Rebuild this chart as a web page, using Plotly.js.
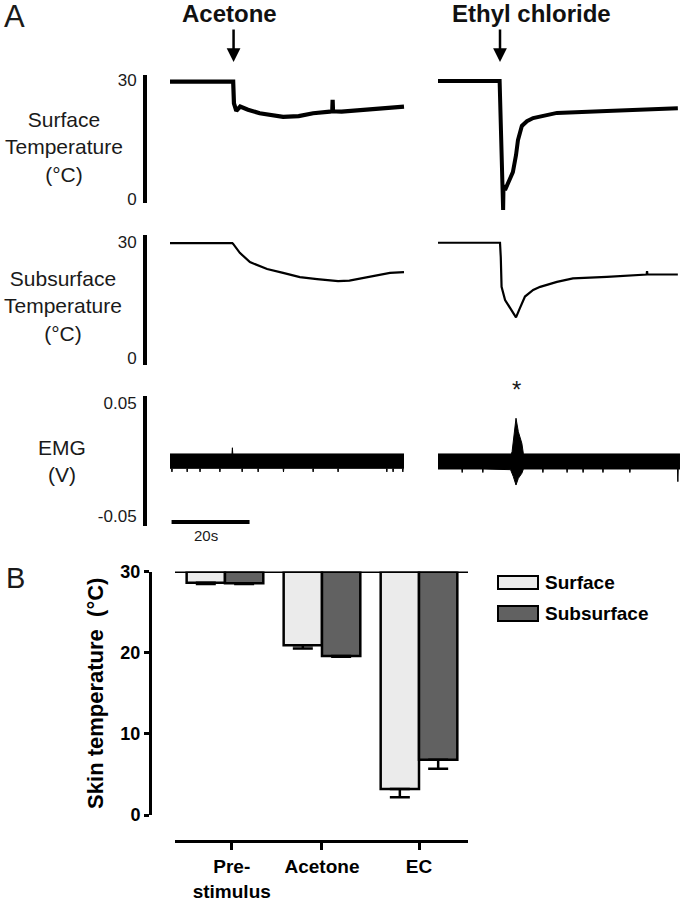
<!DOCTYPE html>
<html><head><meta charset="utf-8">
<script src="https://cdn.plot.ly/plotly-3.0.1.min.js"></script>
<style>html,body{margin:0;padding:0;background:#fff}#chart{width:680px;height:900px}</style>
</head><body><div id="chart"></div>
<script>
// ---------- Panel A data (time in s from start of each recording) ----------
const stimulusNames = ['Acetone', 'Ethyl chloride'];
const stimulusTimes = [16.3, 15.9];

const surfAcetoneT = [0, 16.2, 16.4, 17.0, 18.0, 20.0, 23.0, 26.0, 29.0, 33.0, 36.7, 41.0, 41.6, 41.7, 41.8, 44.0, 50.0, 55.0, 60.0];
const surfAcetoneV = [29.7, 29.7, 24.2, 22.3, 23.4, 22.6, 21.7, 21.2, 20.8, 21.0, 21.7, 22.1, 22.2, 25.1, 22.2, 22.1, 22.6, 23.0, 23.4];

const surfEcT = [0, 15.8, 16.7, 16.8, 17.2, 17.9, 19.2, 20.0, 20.5, 21.5, 22.8, 24.4, 30.5, 43.3, 61.5];
const surfEcV = [29.9, 29.9, -2.8, 3.5, 2.3, 4.0, 6.8, 11.1, 14.9, 18.5, 19.7, 20.5, 21.8, 22.3, 23.0];

const subAcetoneT = [0, 16.0, 16.2, 17.9, 20.5, 24.9, 29.0, 33.3, 37.7, 43.1, 46.0, 52.1, 56.4, 60.0];
const subAcetoneV = [29.7, 29.7, 29.5, 27.2, 24.8, 23.0, 22.0, 20.9, 20.4, 19.9, 20.0, 21.2, 22.0, 22.2];

const subEcT = [0, 15.9, 16.1, 16.3, 17.2, 18.5, 20.0, 21.0, 22.3, 24.4, 26.2, 30.5, 34.6, 43.3, 51.8, 53.5, 53.6, 53.7, 61.5];
const subEcV = [29.8, 29.8, 26.0, 18.4, 15.0, 12.9, 10.5, 12.9, 15.9, 17.6, 18.4, 19.7, 20.6, 21.0, 21.6, 21.6, 22.5, 21.6, 21.6];

// EMG envelopes (V): upper and lower edge of the recorded band
const emgAcetoneHiT = [0, 15.9, 16.0, 16.1, 60];
const emgAcetoneHi  = [0.0049, 0.0049, 0.0104, 0.0049, 0.0049];
const emgAcetoneLoT = [0, 0.4, 0.5, 0.6, 4.3, 4.4, 4.5, 7.6, 7.7, 7.8, 12.7, 12.8, 12.9, 18.4, 18.5, 18.6, 22.5, 22.6, 22.7, 29.0, 29.1, 29.2, 36.6, 36.7, 36.8, 43.0, 43.1, 43.2, 55.5, 55.6, 55.7, 57.1, 57.2, 57.3, 59.6, 59.7, 59.8, 60];
const emgAcetoneLo  = [-0.0078, -0.0078, -0.011, -0.0078, -0.0078, -0.011, -0.0078, -0.0078, -0.011, -0.0078, -0.0078, -0.011, -0.0078, -0.0078, -0.011, -0.0078, -0.0078, -0.011, -0.0078, -0.0078, -0.011, -0.0078, -0.0078, -0.011, -0.0078, -0.0078, -0.011, -0.0078, -0.0078, -0.011, -0.0078, -0.0078, -0.011, -0.0078, -0.0078, -0.011, -0.0078, -0.0078];

const emgEcHiT = [0, 18.8, 19.0, 19.5, 20.0, 20.6, 21.5, 21.9, 62.05];
const emgEcHi  = [0.0049, 0.0049, 0.007, 0.023, 0.0365, 0.0246, 0.0143, 0.0049, 0.0049];
const emgEcLoT = [0, 6.1, 6.2, 6.3, 11.4, 11.5, 11.6, 18.3, 18.6, 19.3, 20.0, 20.6, 21.5, 21.9, 26.8, 26.9, 27.0, 33.0, 33.1, 33.2, 37.1, 37.2, 37.3, 42.2, 42.3, 42.4, 49.1, 49.2, 49.3, 61.4, 61.5, 61.6, 62.05];
const emgEcLo  = [-0.0084, -0.0084, -0.0115, -0.0084, -0.0084, -0.0115, -0.0084, -0.0084, -0.009, -0.015, -0.0226, -0.0167, -0.0122, -0.0084, -0.0084, -0.0115, -0.0084, -0.0084, -0.0115, -0.0084, -0.0084, -0.0115, -0.0084, -0.0084, -0.0115, -0.0084, -0.0084, -0.0115, -0.0084, -0.0084, -0.0196, -0.0084, -0.0084];

const rowLabels = ['Surface<br>Temperature<br>(°C)', 'Subsurface<br>Temperature<br>(°C)', 'EMG<br>(V)'];
const tempTicks = [0, 30];
const tempTickText = ['0', '30'];
const emgTicks = [-0.05, 0.05];
const emgTickText = ['-0.05', '0.05'];
const scaleBarSeconds = 20;
const scaleBarLabel = '20s';

// ---------- Panel B data ----------
const barCategories = ['Pre-<br>stimulus', 'Acetone', 'EC'];
const seriesNames = ['Surface', 'Subsurface'];
const surfaceMeans = [28.6, 20.9, 3.2];
const surfaceSem   = [0.15, 0.4, 1.0];
const subsurfaceMeans = [28.55, 19.6, 6.8];
const subsurfaceSem   = [0.1, 0.1, 1.1];
const barBaseline = 30;
const barTicks = [0, 10, 20, 30];
const barYTitle = 'Skin temperature  (°C)';

// ---------- geometry helpers ----------
const FONT = 'Liberation Sans, Arial, Helvetica, sans-serif';
const W = 680, H = 900, SEC_PX = 3.9;
const dx = (a, b) => [a / W, b / W];
const dy = (top, bottom) => [1 - bottom / H, 1 - top / H];
function rangeFrom(top, bottom, v1, p1, v2, p2) {
  const k = (v1 - v2) / (p2 - p1);
  const valAt = p => v2 + (p2 - p) * k;
  return [valAt(bottom), valAt(top)];
}
const timeRange = (a, b, origin) => [(a - origin) / SEC_PX, (b - origin) / SEC_PX];
const INK = '#000';
const SURF_COLOR = '#ebebeb';
const SUB_COLOR = '#616161';

const hidden = {visible: false, fixedrange: true};
function visY(domain, range, tickvals, ticktext) {
  return {domain, range, anchor: 'free', position: 145 / W, showline: true, linewidth: 4, linecolor: INK,
    ticks: '', tickvals, ticktext, showgrid: false, zeroline: false, ticklabelstandoff: 3,
    tickfont: {family: FONT, size: 17, color: '#1a1a1a'}, fixedrange: true};
}

const rows = [
  {top: 75, bottom: 203, hTop: 60, hBottom: 225, map: [30, 80.5, 0, 199], ticks: tempTicks, text: tempTickText},
  {top: 235, bottom: 365, hTop: 225, hBottom: 375, map: [30, 242, 0, 358], ticks: tempTicks, text: tempTickText},
  {top: 396, bottom: 526, hTop: 390, hBottom: 532, map: [0.05, 403, -0.05, 516], ticks: emgTicks, text: emgTickText}
];

const layout = {
  width: W, height: H, margin: {l: 0, r: 0, t: 0, b: 0},
  paper_bgcolor: '#fff', plot_bgcolor: 'rgba(0,0,0,0)', showlegend: false,
  barmode: 'group', bargap: 0.21, bargroupgap: 0,
  font: {family: FONT, color: '#1a1a1a'},
  annotations: [], shapes: []
};

rows.forEach((r, i) => {
  const nL = 2 * i + 1, nR = 2 * i + 2;
  const sfx = n => (n === 1 ? '' : String(n));
  layout['xaxis' + sfx(nL)] = Object.assign({}, hidden, {domain: dx(160, 414), range: timeRange(160, 414, 170), anchor: 'y' + sfx(nL)});
  layout['yaxis' + sfx(nL)] = visY(dy(r.top, r.bottom), rangeFrom(r.top, r.bottom, ...r.map), r.ticks, r.text);
  layout['xaxis' + sfx(nR)] = Object.assign({}, hidden, {domain: dx(428, 680), range: timeRange(428, 680, 438), anchor: 'y' + sfx(nR)});
  layout['yaxis' + sfx(nR)] = Object.assign({}, hidden, {domain: dy(r.hTop, r.hBottom), range: rangeFrom(r.hTop, r.hBottom, ...r.map), anchor: 'x' + sfx(nR)});
});

// Panel B axes
layout.xaxis7 = {domain: dx(175, 468), range: [-0.515, 2.505], anchor: 'free', position: 1 - 841 / H,
  showline: true, linewidth: 3, linecolor: INK, ticks: 'outside', ticklen: 7, tickwidth: 3, tickcolor: INK,
  tickvals: [0.07, 1, 2], ticktext: barCategories, showgrid: false, zeroline: false,
  tickfont: {family: FONT, size: 19, weight: 'bold', color: INK}, fixedrange: true};
layout.yaxis7 = {domain: dy(571.5, 815), range: [0, 30], anchor: 'free', position: 150 / W,
  showline: true, linewidth: 3, linecolor: INK, ticks: 'outside', ticklen: 5, tickwidth: 3, tickcolor: INK,
  tickvals: barTicks, showgrid: false, zeroline: false,
  tickfont: {family: FONT, size: 18, weight: 'bold', color: INK},
  title: {text: barYTitle, font: {family: FONT, size: 22, weight: 'bold', color: INK}, standoff: 9},
  fixedrange: true};

const line = (x, y, xa, ya, w) => ({type: 'scatter', mode: 'lines', x, y, xaxis: xa, yaxis: ya,
  line: {color: INK, width: w}, hoverinfo: 'skip'});

const data = [
  line(surfAcetoneT, surfAcetoneV, 'x', 'y', 4.2),
  line(surfEcT, surfEcV, 'x2', 'y2', 4),
  line(subAcetoneT, subAcetoneV, 'x3', 'y3', 2.2),
  line(subEcT, subEcV, 'x4', 'y4', 2.2),
  line(emgAcetoneHiT, emgAcetoneHi, 'x5', 'y5', 1),
  Object.assign(line(emgAcetoneLoT, emgAcetoneLo, 'x5', 'y5', 1), {fill: 'tonexty', fillcolor: INK}),
  line(emgEcHiT, emgEcHi, 'x6', 'y6', 1),
  Object.assign(line(emgEcLoT, emgEcLo, 'x6', 'y6', 1), {fill: 'tonexty', fillcolor: INK}),
  {type: 'bar', name: seriesNames[0], x: barCategories.map((c, i) => i), y: surfaceMeans.map(v => v - barBaseline), base: barBaseline,
   xaxis: 'x7', yaxis: 'y7', marker: {color: SURF_COLOR, line: {color: INK, width: 2.5}},
   error_y: {type: 'data', symmetric: false, array: surfaceSem.map(() => 0), arrayminus: surfaceSem, color: INK, thickness: 2.5, width: 10}},
  {type: 'bar', name: seriesNames[1], x: barCategories.map((c, i) => i), y: subsurfaceMeans.map(v => v - barBaseline), base: barBaseline,
   xaxis: 'x7', yaxis: 'y7', marker: {color: SUB_COLOR, line: {color: INK, width: 2.5}},
   error_y: {type: 'data', symmetric: false, array: subsurfaceSem.map(() => 0), arrayminus: subsurfaceSem, color: INK, thickness: 2.5, width: 10}}
];

const ann = layout.annotations, shp = layout.shapes;
const txt = (text, xpx, ypx, size, opts) => Object.assign({text, xref: 'paper', yref: 'paper', x: xpx / W, y: 1 - ypx / H,
  showarrow: false, xanchor: 'center', yanchor: 'middle', font: {family: FONT, size, color: '#1a1a1a'}}, opts || {});

// panel letters
ann.push(txt('A', 2, 17, 31, {xanchor: 'left'}));
ann.push(txt('B', 4, 578, 29, {xanchor: 'left'}));
// stimulus titles + arrows
ann.push(txt(stimulusNames[0], 229, 13, 24, {font: {family: FONT, size: 24, weight: 'bold', color: '#111'}}));
ann.push(txt(stimulusNames[1], 531, 13, 24, {font: {family: FONT, size: 24, weight: 'bold', color: '#111'}}));
['x', 'x2'].forEach((xa, i) => ann.push({text: '', xref: xa, yref: 'paper', x: stimulusTimes[i], y: 1 - 62 / H,
  showarrow: true, ax: 0, ay: -34, arrowhead: 2, arrowsize: 1.1, arrowwidth: 2.5, arrowcolor: INK}));
// row labels
ann.push(txt(rowLabels[0], 64, 147, 21));
ann.push(txt(rowLabels[1], 63, 306, 21));
ann.push(txt(rowLabels[2], 62, 461, 21));
// asterisk over EMG burst
ann.push({text: '*', xref: 'x6', yref: 'paper', x: 20.0, y: 1 - 389 / H, showarrow: false, xanchor: 'center', yanchor: 'middle',
  font: {family: FONT, size: 24, color: '#1a1a1a'}});
// scale bar
shp.push({type: 'line', xref: 'x5', yref: 'paper', x0: 0.4, x1: 0.4 + scaleBarSeconds, y0: 1 - 522 / H, y1: 1 - 522 / H, line: {color: INK, width: 4}});
ann.push({text: scaleBarLabel, xref: 'x5', yref: 'paper', x: 9.3, y: 1 - 535 / H, showarrow: false, xanchor: 'center', yanchor: 'middle',
  font: {family: FONT, size: 15, color: '#1a1a1a'}});
// Panel B baseline at 30
shp.push({type: 'line', xref: 'x7 domain', yref: 'y7', x0: 0, x1: 1, y0: barBaseline, y1: barBaseline, line: {color: INK, width: 3}});
// legend
[[SURF_COLOR, 576, 589], [SUB_COLOR, 606, 621]].forEach((s, i) => {
  shp.push({type: 'rect', xref: 'paper', yref: 'paper', x0: 498 / W, x1: 538 / W, y0: 1 - s[2] / H, y1: 1 - s[1] / H,
    fillcolor: s[0], line: {color: INK, width: 2}});
  ann.push(txt(seriesNames[i], 543, (s[1] + s[2]) / 2, 19, {xanchor: 'left', font: {family: FONT, size: 19, weight: 'bold', color: INK}}));
});

Plotly.newPlot('chart', data, layout, {staticPlot: true, displayModeBar: false});
</script>
</body></html>
